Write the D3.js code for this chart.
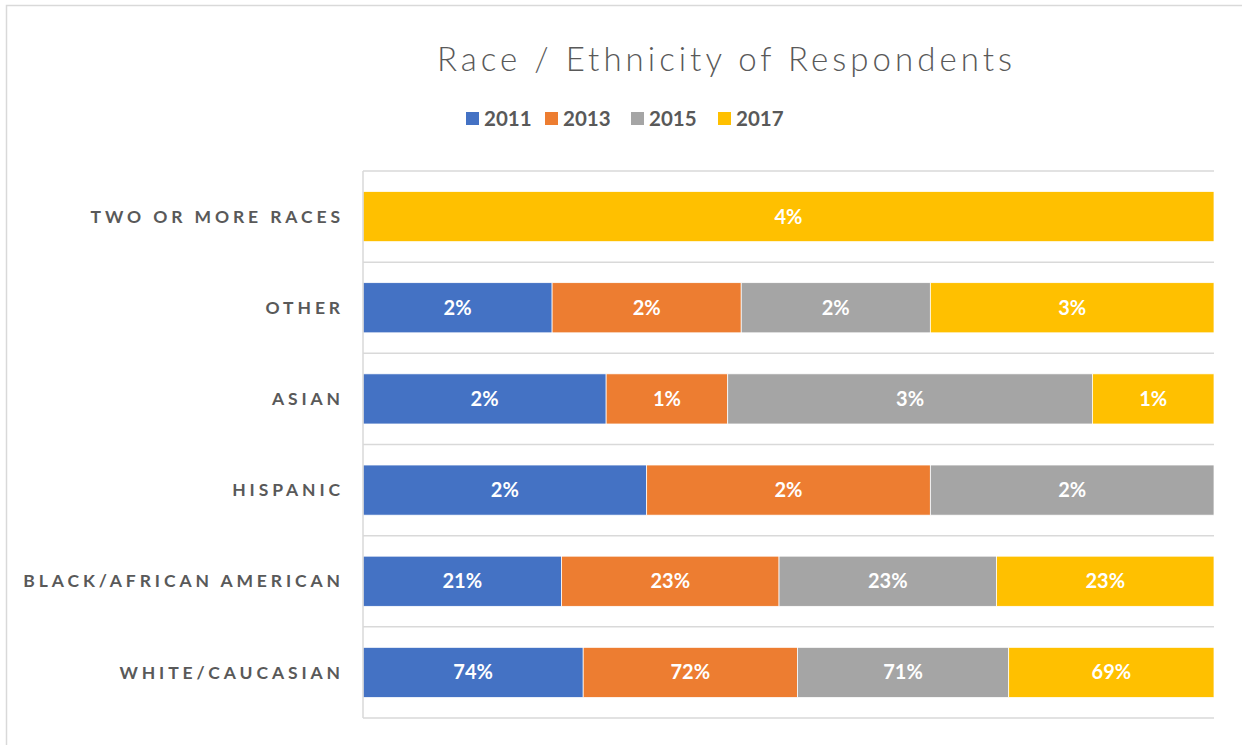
<!DOCTYPE html>
<html>
<head>
<meta charset="utf-8">
<script src="https://cdn.jsdelivr.net/npm/d3@7"></script>
<style>
  body { margin: 0; background: #fff; }
  svg { display: block; }
</style>
</head>
<body>
<div id="chart"></div>
<script>
// data, top row first
var categories = ["TWO OR MORE RACES", "OTHER", "ASIAN", "HISPANIC", "BLACK/AFRICAN AMERICAN", "WHITE/CAUCASIAN"]
var years = ["2011", "2013", "2015", "2017"]
var v2011 = [0, 2, 2, 2, 21, 74]
var v2013 = [0, 2, 1, 2, 23, 72]
var v2015 = [0, 2, 3, 2, 23, 71]
var v2017 = [4, 3, 1, 0, 23, 69]
var colors = ["#4472c4", "#ed7d31", "#a5a5a5", "#ffc000"]

var width = 1242
var height = 745

var rows = categories.map(function (c, i) {
    return { cat: c, "2011": v2011[i], "2013": v2013[i], "2015": v2015[i], "2017": v2017[i] }
})

var svg = d3.select("#chart").append("svg")
    .attr("width", width)
    .attr("height", height)

// chart border
svg.append("rect")
    .attr("x", 6.5).attr("y", 5.5)
    .attr("width", 1400).attr("height", 900)
    .attr("fill", "none")
    .attr("stroke", "#d9d9d9")
    .attr("stroke-width", 1.5)

var x = d3.scaleLinear().domain([0, 1]).range([363, 1214])
var y = d3.scaleBand().domain(categories).range([171, 718]).paddingInner(0.45).paddingOuter(0.225)

var stack = d3.stack().keys(years).offset(d3.stackOffsetExpand)
var series = stack(rows)

// row separators
var bounds = d3.range(categories.length + 1).map(function (i) { return 171 + i * (718 - 171) / categories.length })
svg.append("g").selectAll("line")
    .data(bounds)
    .enter().append("line")
    .attr("x1", 363).attr("x2", 1214)
    .attr("y1", function (d) { return d }).attr("y2", function (d) { return d })
    .attr("stroke", "#d9d9d9")
    .attr("stroke-width", 1.5)

var groups = svg.append("g").selectAll("g")
    .data(series)
    .enter().append("g")
    .attr("fill", function (d, i) { return colors[i] })

groups.selectAll("rect")
    .data(function (d) { return d })
    .enter().append("rect")
    .attr("x", function (d) { return x(d[0]) })
    .attr("y", function (d) { return y(d.data.cat) })
    .attr("width", function (d) { return x(d[1]) - x(d[0]) })
    .attr("height", y.bandwidth())
    .attr("stroke", "#fff")
    .attr("stroke-width", 0.75)

// data labels
series.forEach(function (s) {
    svg.append("g").selectAll("text")
        .data(s.filter(function (d) { return d.data[s.key] > 0 }))
        .enter().append("text")
        .attr("x", function (d) { return (x(d[0]) + x(d[1])) / 2 })
        .attr("y", function (d) { return y(d.data.cat) + y.bandwidth() / 2 })
        .attr("dy", "0.35em")
        .attr("text-anchor", "middle")
        .attr("fill", "#fff")
        .style("font-family", "Lato, 'Open Sans', sans-serif")
        .style("font-weight", "bold")
        .style("font-size", "20px")
        .text(function (d) { return d.data[s.key] + "%" })
})

// vertical axis line
svg.append("line")
    .attr("x1", 363).attr("x2", 363)
    .attr("y1", 171).attr("y2", 718)
    .attr("stroke", "#d9d9d9")
    .attr("stroke-width", 1.5)

// category labels
svg.append("g").selectAll("text")
    .data(categories)
    .enter().append("text")
    .attr("x", 344)
    .attr("y", function (d) { return y(d) + y.bandwidth() / 2 })
    .attr("dy", "0.35em")
    .attr("text-anchor", "end")
    .attr("fill", "#595959")
    .style("font-family", "Lato, 'Open Sans', sans-serif")
    .style("font-weight", "bold")
    .style("font-size", "17.5px")
    .style("letter-spacing", "3.9px")
    .text(function (d) { return d })

// title
svg.append("text")
    .attr("x", 437)
    .attr("y", 71)
    .attr("textLength", 575)
    .attr("lengthAdjust", "spacing")
    .attr("fill", "#595959")
    .style("font-family", "Lato, 'Open Sans', sans-serif")
    .style("font-weight", "300")
    .style("font-size", "33px")
    .text("Race / Ethnicity of Respondents")

// legend
var legendX = [466, 545, 631, 718]
var legend = svg.append("g").selectAll("g")
    .data(years)
    .enter().append("g")
    .attr("transform", function (d, i) { return "translate(" + legendX[i] + ",112)" })

legend.append("rect")
    .attr("width", 13).attr("height", 13)
    .attr("fill", function (d, i) { return colors[i] })

legend.append("text")
    .attr("x", 18)
    .attr("y", 6.5)
    .attr("dy", "0.36em")
    .attr("fill", "#595959")
    .style("font-family", "Lato, 'Open Sans', sans-serif")
    .style("font-weight", "bold")
    .style("font-size", "20.5px")
    .text(function (d) { return d })
</script>
</body>
</html>
